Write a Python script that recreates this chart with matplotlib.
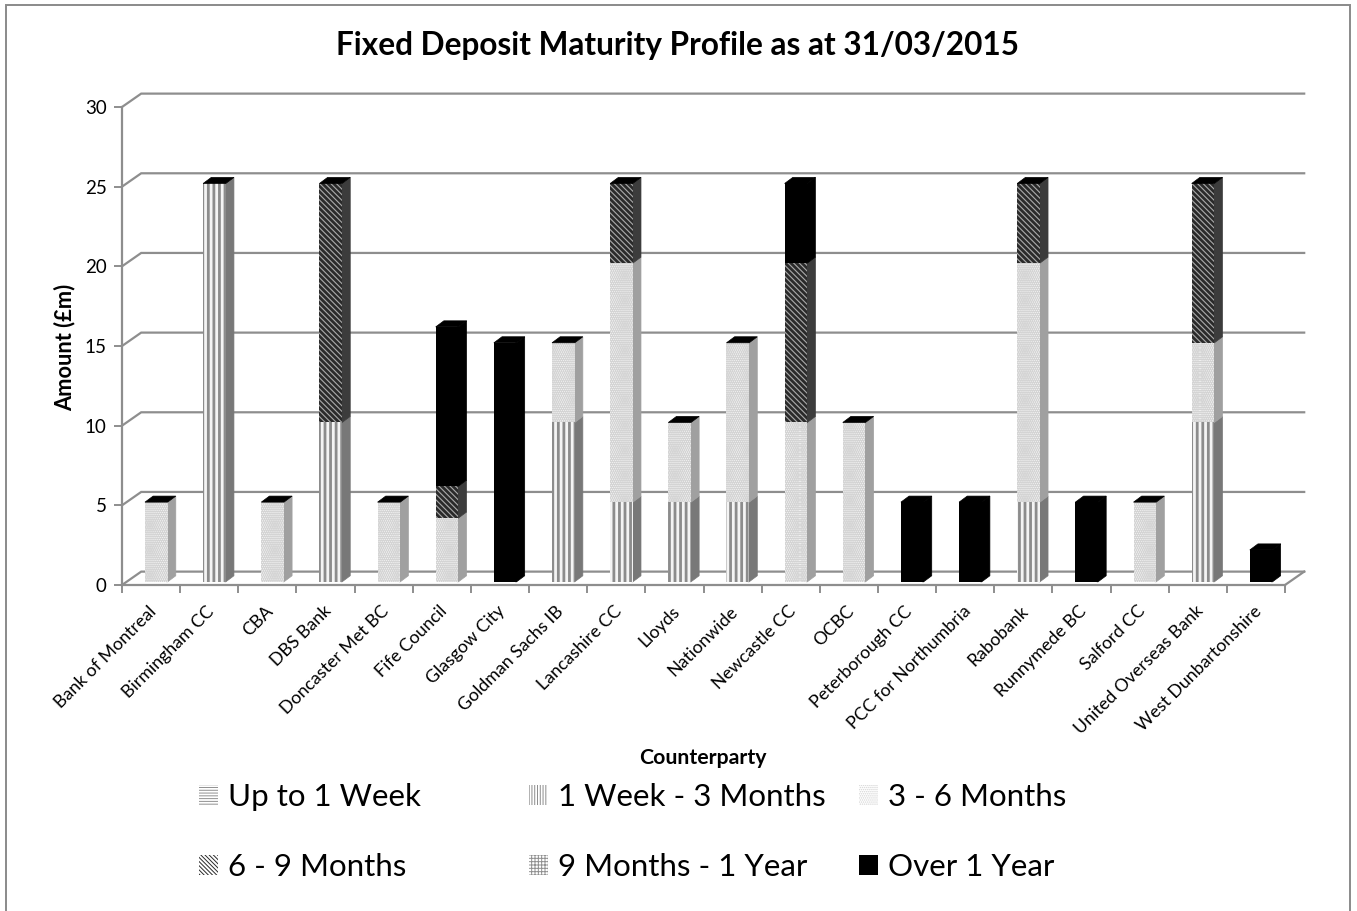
import numpy as np
import matplotlib
matplotlib.use("Agg")
import matplotlib.pyplot as plt
from matplotlib.patches import Polygon, Patch, Rectangle

plt.rcParams['font.family'] = ['Lato', 'DejaVu Sans']
plt.rcParams['hatch.linewidth'] = 2.0

counterparties = ["Bank of Montreal", "Birmingham CC", "CBA", "DBS Bank", "Doncaster Met BC",
                  "Fife Council", "Glasgow City", "Goldman Sachs IB", "Lancashire CC", "Lloyds",
                  "Nationwide", "Newcastle CC", "OCBC", "Peterborough CC", "PCC for Northumbria",
                  "Rabobank", "Runnymede BC", "Salford CC", "United Overseas Bank", "West Dunbartonshire"]

up_to_1w = [0, 0, 0, 0, 0, 0, 0, 0, 0, 0, 0, 0, 0, 0, 0, 0, 0, 0, 0, 0]
w1_to_m3 = [0, 25, 0, 10, 0, 0, 0, 10, 5, 5, 5, 0, 0, 0, 0, 5, 0, 0, 10, 0]
m3_to_m6 = [5, 0, 5, 0, 5, 4, 0, 5, 15, 5, 10, 10, 10, 0, 0, 15, 0, 5, 5, 0]
m6_to_m9 = [0, 0, 0, 15, 0, 2, 0, 0, 5, 0, 0, 10, 0, 0, 0, 5, 0, 0, 10, 0]
m9_to_y1 = [0, 0, 0, 0, 0, 0, 0, 0, 0, 0, 0, 0, 0, 0, 0, 0, 0, 0, 0, 0]
over_1y = [0, 0, 0, 0, 0, 10, 15, 0, 0, 0, 0, 5, 0, 5, 5, 0, 5, 0, 0, 2]

series_names = ["Up to 1 Week", "1 Week - 3 Months", "3 - 6 Months",
                "6 - 9 Months", "9 Months - 1 Year", "Over 1 Year"]
series_vals = [up_to_1w, w1_to_m3, m3_to_m6, m6_to_m9, m9_to_y1, over_1y]
y_ticks = [0, 5, 10, 15, 20, 25, 30]

# face, hatch colour, hatch, side colour
styles = [("#ffffff", "#909090", "-----", "#808080"),
          ("#f4f4f4", "#8c8c8c", "|||", "#787878"),
          ("#f4f4f4", "#d4d4d4", "........", "#a0a0a0"),
          ("#a8a8a8", "#2a2a2a", "\\\\\\\\\\\\", "#3c3c3c"),
          ("#ffffff", "#909090", "+++++", "#808080"),
          ("#000000", "#000000", None, "#000000")]
# legend swatches are finer than the bars
legend_hatches = ["------", "||||||", "........", "\\\\\\\\\\\\\\\\", "+++++", None]

W, H = 1357, 911
GRID = "#8e8e8e"

fig = plt.figure(figsize=(W / 100, H / 100), dpi=100)
ax = fig.add_axes([122 / W, 1 - 585 / H, (1285 - 122) / W, (585 - 107) / H])
ax.set_xlim(0, 20)
ax.set_ylim(0, 30)
ax.patch.set_alpha(0)

# depth of the fake 3d, in data units
wall_dx, wall_dy = 0.33, 0.84
bar_dx, bar_dy = 0.14, 0.38
bar_w = 0.39
bar_shift, bar_lift = 0.09, 0.2

# back wall lines
for v in y_ticks:
    ax.plot([0, wall_dx, 20 + wall_dx], [v, v + wall_dy, v + wall_dy], color=GRID, lw=1.6,
            clip_on=False, zorder=1, solid_joinstyle="miter")
ax.plot([20, 20 + wall_dx], [0, wall_dy], color=GRID, lw=1.6, clip_on=False, zorder=1)

x = np.arange(len(counterparties)) + 0.5 + bar_shift
bottom = np.full(len(counterparties), bar_lift, dtype=float)
for vals, (face, hcol, hatch, side) in zip(series_vals, styles):
    vals = np.array(vals, dtype=float)
    ax.bar(x, vals, bar_w, bottom=bottom, facecolor=face, edgecolor=hcol, hatch=hatch,
           linewidth=0, zorder=3, clip_on=False)
    for xi, b, v in zip(x, bottom, vals):
        if v == 0:
            continue
        r = xi + bar_w / 2
        # start a bit inside the front face, avoids a white seam
        ax.add_patch(Polygon([(r - 0.02, b), (r, b), (r + bar_dx, b + bar_dy), (r + bar_dx, b + v + bar_dy),
                              (r, b + v), (r - 0.02, b + v)],
                             closed=True, facecolor=side, edgecolor=side, lw=0.5, zorder=2.9, clip_on=False))
    bottom = bottom + vals

# top caps are black on every bar
for xi, t in zip(x, bottom):
    l = xi - bar_w / 2
    r = xi + bar_w / 2
    ax.add_patch(Polygon([(l, t), (r, t), (r + bar_dx, t + bar_dy), (l + bar_dx, t + bar_dy)],
                         closed=True, facecolor="black", edgecolor="black", lw=0.5, zorder=4, clip_on=False))

for s in ["top", "right"]:
    ax.spines[s].set_visible(False)
for s in ["left", "bottom"]:
    ax.spines[s].set_color(GRID)
    ax.spines[s].set_linewidth(1.6)
    ax.spines[s].set_zorder(2)

ax.set_yticks(y_ticks)
ax.tick_params(axis="y", colors=GRID, labelcolor="black", labelsize=13.5, length=6, width=1.4, pad=5)
ax.set_xticks(np.arange(21))
ax.set_xticklabels([])
# labels sit a little left of the category centre
ax.set_xticks(np.arange(20) + 0.45, minor=True)
ax.set_xticklabels(counterparties, minor=True, rotation=45, ha="right", va="top",
                   rotation_mode="anchor", fontsize=12.8)
ax.tick_params(axis="x", which="major", colors=GRID, length=6, width=1.4)
ax.tick_params(axis="x", which="minor", length=0, pad=13)

fig.text(678 / W, 1 - 46 / H, "Fixed Deposit Maturity Profile as at 31/03/2015", ha="center", va="center",
         fontsize=22.7, fontweight="bold")
fig.text(65 / W, 1 - 347 / H, "Amount (£m)", rotation=90, ha="center", va="center",
         fontsize=15.7, fontweight="bold")
fig.text(703 / W, 1 - 758 / H, "Counterparty", ha="center", va="center", fontsize=15.3, fontweight="bold")

# thinner hatch lines for the legend swatches
plt.rcParams['hatch.linewidth'] = 0.7

# legend has three evenly spaced columns, so one legend per column
col_left = [190, 520, 850]
for c, left in enumerate(col_left):
    handles = []
    for k in (c, c + 3):
        face, hcol, hatch, side = styles[k]
        handles.append(Patch(facecolor="black" if k == 5 else "white", edgecolor=hcol, hatch=legend_hatches[k],
                             linewidth=0, label=series_names[k]))
    fig.legend(handles=handles, loc="upper left", bbox_to_anchor=(left / W, 1 - 774 / H),
               frameon=False, fontsize=22.5, handlelength=0.6, handleheight=0.6,
               handletextpad=0.3, labelspacing=1.34, borderpad=0.3, borderaxespad=0)

fig.add_artist(Rectangle((5.5 / W, -0.01), 1344 / W, 1.004, transform=fig.transFigure,
                         facecolor="none", edgecolor="#8a8a8a", lw=1.4))

fig.savefig("out.png", dpi=100)
